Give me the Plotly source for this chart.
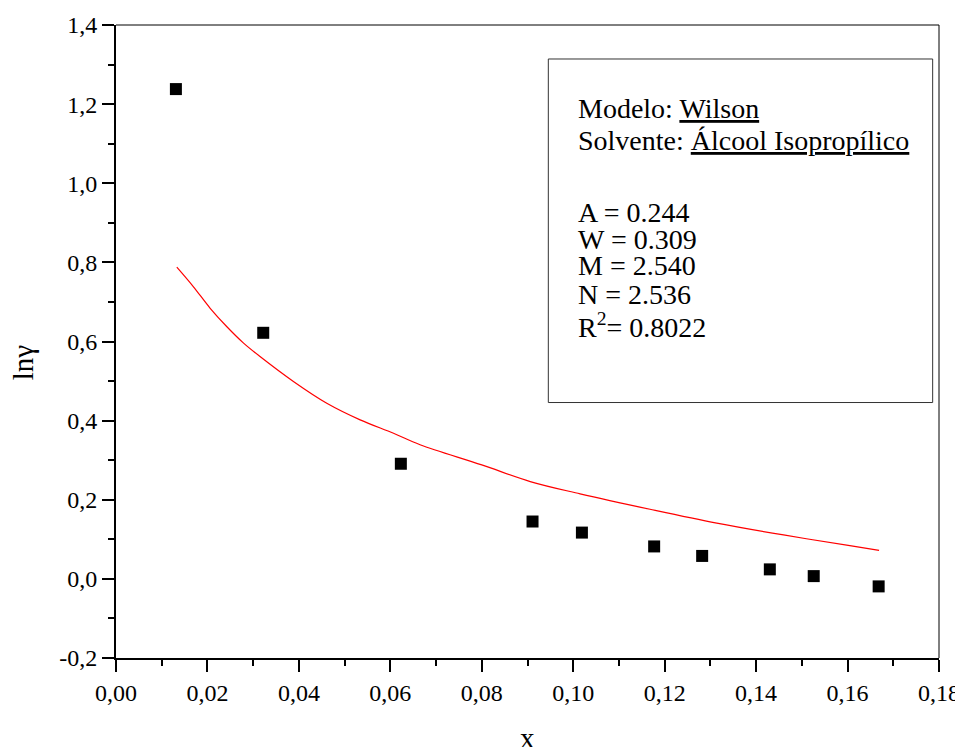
import plotly.graph_objects as go

# pontos experimentais
x_exp = [0.0131, 0.0322, 0.0623, 0.0911, 0.1019, 0.1177, 0.1282, 0.1430, 0.1526, 0.1668]
lng_exp = [1.238, 0.622, 0.291, 0.145, 0.117, 0.082, 0.058, 0.024, 0.007, -0.019]

# curva do modelo Wilson
x_mod = [0.0133, 0.0169, 0.0206, 0.0242, 0.0279, 0.0315, 0.0388, 0.0461, 0.0534,
         0.0607, 0.0665, 0.0800, 0.0906, 0.1015, 0.1168, 0.1314, 0.1460, 0.1605, 0.1669]
lng_mod = [0.788, 0.739, 0.684, 0.638, 0.596, 0.562, 0.499, 0.444, 0.402,
           0.368, 0.339, 0.288, 0.246, 0.215, 0.176, 0.141, 0.111, 0.084, 0.072]

y_ticks = [-0.2, 0.0, 0.2, 0.4, 0.6, 0.8, 1.0, 1.2, 1.4]
y_ticklabels = ["-0,2", "0,0", "0,2", "0,4", "0,6", "0,8", "1,0", "1,2", "1,4"]

linhas_caixa = ["Modelo: <u>Wilson</u>", "Solvente: <u>Álcool Isopropílico</u>",
                "A = 0.244", "W = 0.309", "M = 2.540", "N = 2.536", "R<sup>2</sup>= 0.8022"]
pos_caixa = [0.8686, 0.8172, 0.7039, 0.6618, 0.6198, 0.5749, 0.5250]

fonte = "Liberation Serif"

fig = go.Figure()
fig.add_trace(go.Scatter(x=x_mod, y=lng_mod, mode="lines",
                         line=dict(color="red", width=1.2, shape="spline"), showlegend=False))
fig.add_trace(go.Scatter(x=x_exp, y=lng_exp, mode="markers",
                         marker=dict(symbol="square", size=12, color="black"),
                         showlegend=False))

eixo = dict(showline=True, linewidth=2, linecolor="black", ticks="outside",
            ticklen=12, tickwidth=2, tickcolor="black", showgrid=False, zeroline=False,
            tickfont=dict(family=fonte, size=24, color="black"))

fig.update_xaxes(range=[0, 0.18], dtick=0.02, tickformat=".2f",
                 minor=dict(dtick=0.01, ticklen=6, tickwidth=2, tickcolor="black"), **eixo)
fig.update_yaxes(range=[-0.2, 1.4], tickvals=y_ticks, ticktext=y_ticklabels,
                 minor=dict(dtick=0.1, ticklen=6, tickwidth=2, tickcolor="black"), **eixo)

# moldura fina em cima e a direita
fig.add_shape(type="line", xref="paper", yref="paper", x0=0, x1=1, y0=1, y1=1,
              line=dict(color="black", width=1))
fig.add_shape(type="line", xref="paper", yref="paper", x0=1, x1=1, y0=0, y1=1,
              line=dict(color="black", width=1))

# caixa de texto
fig.add_shape(type="rect", xref="paper", yref="paper", x0=0.5253, x1=0.9923,
              y0=0.4036, y1=0.9463, line=dict(color="#333333", width=1))
for txt, yy in zip(linhas_caixa, pos_caixa):
    fig.add_annotation(text=txt, xref="paper", yref="paper", x=0.559, y=yy,
                       xanchor="left", yanchor="middle", showarrow=False,
                       font=dict(family=fonte, size=28, color="black"))

# titulos dos eixos
fig.add_annotation(text="x", xref="paper", yref="paper", x=0.5, y=-0.127,
                   xanchor="center", yanchor="middle", showarrow=False,
                   font=dict(family=fonte, size=29, color="black"))
fig.add_annotation(text="lnγ", xref="paper", yref="paper", x=-0.112, y=0.467,
                   xanchor="center", yanchor="middle", textangle=-90, showarrow=False,
                   font=dict(family=fonte, size=29, color="black"))

fig.update_layout(width=955, height=739, separators=",.",
                  margin=dict(l=108, r=24, t=17, b=89, autoexpand=False),
                  plot_bgcolor="white", paper_bgcolor="white")

fig.write_html("out.html")
